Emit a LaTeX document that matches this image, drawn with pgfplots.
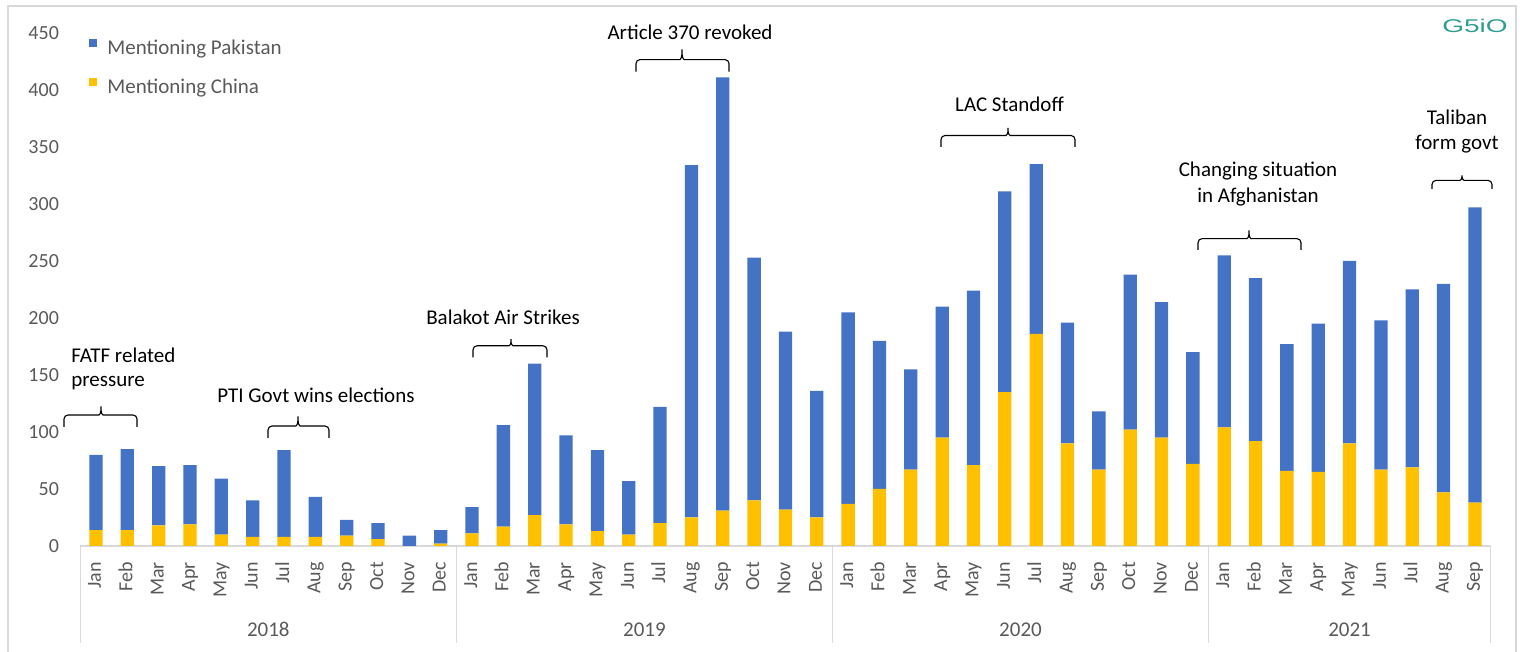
\documentclass[border=0pt]{standalone}
\usepackage{pgfplots}
\pgfplotsset{compat=1.18}
\usepackage{fontspec}
\setmainfont{Carlito}
\newfontfamily\logofont{Liberation Sans}

\definecolor{pakblue}{HTML}{4472C4}
\definecolor{chinayellow}{HTML}{FFC000}
\definecolor{tickgray}{HTML}{595959}
\definecolor{linegray}{HTML}{D9D9D9}
\definecolor{logoteal}{HTML}{2E9E91}

\newcommand{\annfont}{\fontsize{10.5}{12.6}\selectfont}
% horizontal brace: x-left, x-right, x-tip, y-ends, y-bar, y-tip (pixel units)
\newcommand{\hbrace}[6]{%
  \draw[line width=0.55pt, rounded corners=2pt]
    (#1,#4) -- (#1,#5) -- ({#3-6},#5)
    .. controls ({#3-1.5},#5) and (#3,{#5-1.5}) .. (#3,#6)
    .. controls (#3,{#5-1.5}) and ({#3+1.5},#5) .. ({#3+6},#5)
    -- (#2,#5) -- (#2,#4);}

\begin{document}
\begin{tikzpicture}
\path[use as bounding box] (0,0) rectangle (760pt,326pt);
\draw[linegray, line width=0.75pt] (4pt,0pt) -- (4pt,323pt) -- (758pt,323pt) -- (758pt,0pt);

\begin{axis}[
    at={(40.15pt,53pt)}, anchor=south west,
    scale only axis, width=705.15pt, height=256.5pt,
    ybar stacked, bar width=6.65pt,
    xmin=-0.5, xmax=44.5, ymin=0, ymax=450,
    xtick={0,...,44},
    xticklabels={Jan,Feb,Mar,Apr,May,Jun,Jul,Aug,Sep,Oct,Nov,Dec,
                 Jan,Feb,Mar,Apr,May,Jun,Jul,Aug,Sep,Oct,Nov,Dec,
                 Jan,Feb,Mar,Apr,May,Jun,Jul,Aug,Sep,Oct,Nov,Dec,
                 Jan,Feb,Mar,Apr,May,Jun,Jul,Aug,Sep},
    ytick={0,50,...,450},
    axis lines*=left,
    y axis line style={draw=none},
    x axis line style={draw=linegray, line width=0.75pt},
    major tick length=0pt,
    tick style={draw=none},
    /pgf/number format/assume math mode=true,
    ticklabel style={font=\fontsize{10}{12}\selectfont, text=tickgray},
    xticklabel style={rotate=90, anchor=east, inner sep=0pt, text height=7pt, text depth=2pt},
    xticklabel shift=7.85pt,
    yticklabel style={anchor=east, inner sep=0pt},
    yticklabel shift=10.5pt,
    clip=false,
    reverse legend,
    legend cell align=left,
    legend style={at={(rel axis cs:0.0062,0.9887)}, anchor=north west,
        draw=none, fill=none, inner sep=0pt, row sep=9pt,
        nodes={inner sep=0pt, text height=7.5pt, text depth=2.5pt,
               font=\annfont, text=tickgray}},
    legend image code/.code={\fill[#1] (0pt,1.4pt) rectangle (4pt,5.4pt); \path (9pt,0pt);},
]
% Mentioning China
\addplot[fill=chinayellow, draw=none] coordinates {
(0,14) (1,14) (2,18) (3,19) (4,10) (5,8) (6,8) (7,8) (8,9) (9,6) (10,0) (11,2)
(12,11) (13,17) (14,27) (15,19) (16,13) (17,10) (18,20) (19,25) (20,31) (21,40) (22,32) (23,25)
(24,37) (25,50) (26,67) (27,95) (28,71) (29,135) (30,186) (31,90) (32,67) (33,102) (34,95) (35,72)
(36,104) (37,92) (38,66) (39,65) (40,90) (41,67) (42,69) (43,47) (44,38)
};
% Mentioning Pakistan
\addplot[fill=pakblue, draw=none] coordinates {
(0,66) (1,71) (2,52) (3,52) (4,49) (5,32) (6,76) (7,35) (8,14) (9,14) (10,9) (11,12)
(12,23) (13,89) (14,133) (15,78) (16,71) (17,47) (18,102) (19,309) (20,380) (21,213) (22,156) (23,111)
(24,168) (25,130) (26,88) (27,115) (28,153) (29,176) (30,149) (31,106) (32,51) (33,136) (34,119) (35,98)
(36,151) (37,143) (38,111) (39,130) (40,160) (41,131) (42,156) (43,183) (44,259)
};
\legend{Mentioning China, Mentioning Pakistan}

% year group separators
\foreach \s in {-0.5,11.5,23.5,35.5,44.5}{
  \edef\temp{\noexpand\draw[linegray, line width=0.65pt] (axis cs:\s,0) -- ++(0pt,-48.5pt);}
  \temp
}
\node[anchor=base, font=\fontsize{10.5}{12}\selectfont, text=tickgray, yshift=-45.3pt] at (axis cs:5.5,0) {2018};
\node[anchor=base, font=\fontsize{10.5}{12}\selectfont, text=tickgray, yshift=-45.3pt] at (axis cs:17.5,0) {2019};
\node[anchor=base, font=\fontsize{10.5}{12}\selectfont, text=tickgray, yshift=-45.3pt] at (axis cs:29.5,0) {2020};
\node[anchor=base, font=\fontsize{10.5}{12}\selectfont, text=tickgray, yshift=-45.3pt] at (axis cs:40,0) {2021};
\end{axis}

% annotations (pixel-based placement)
\begin{scope}[shift={(0pt,326pt)}, x=0.5pt, y=-0.5pt, font=\annfont]
\node[anchor=base west, inner sep=0pt] at (71,362.5) {FATF related};
\node[anchor=base west, inner sep=0pt] at (71,387) {pressure};
\node[anchor=base, inner sep=0pt] at (316,403) {PTI Govt wins elections};
\node[anchor=base, inner sep=0pt] at (503,325) {Balakot Air Strikes};
\node[anchor=base, inner sep=0pt] at (690,39.6) {Article 370 revoked};
\node[anchor=base, inner sep=0pt] at (1009.5,112) {LAC Standoff};
\node[anchor=base, inner sep=0pt] at (1258,177) {Changing situation};
\node[anchor=base, inner sep=0pt] at (1258,203) {in Afghanistan};
\node[anchor=base, inner sep=0pt] at (1457,125) {Taliban};
\node[anchor=base, inner sep=0pt] at (1457,149.7) {form govt};

\hbrace{64}{137}{101}{427}{415}{404}
\hbrace{268}{329}{298}{438}{426}{414}
\hbrace{473}{547}{511}{357.5}{345.8}{336.7}
\hbrace{636}{729}{682}{71.7}{59.6}{47}
\hbrace{941}{1075}{1008}{146.8}{135.5}{125.6}
\hbrace{1198}{1301}{1249}{250}{238.7}{228}
\hbrace{1432}{1492}{1462}{188.8}{180.4}{173}

\node[anchor=base, inner sep=0pt, text=logoteal, font=\logofont\fontsize{10}{12}\selectfont] at (1475,33) {\scalebox{1.4}[0.92]{G5iO}};
\end{scope}
\end{tikzpicture}
\end{document}
